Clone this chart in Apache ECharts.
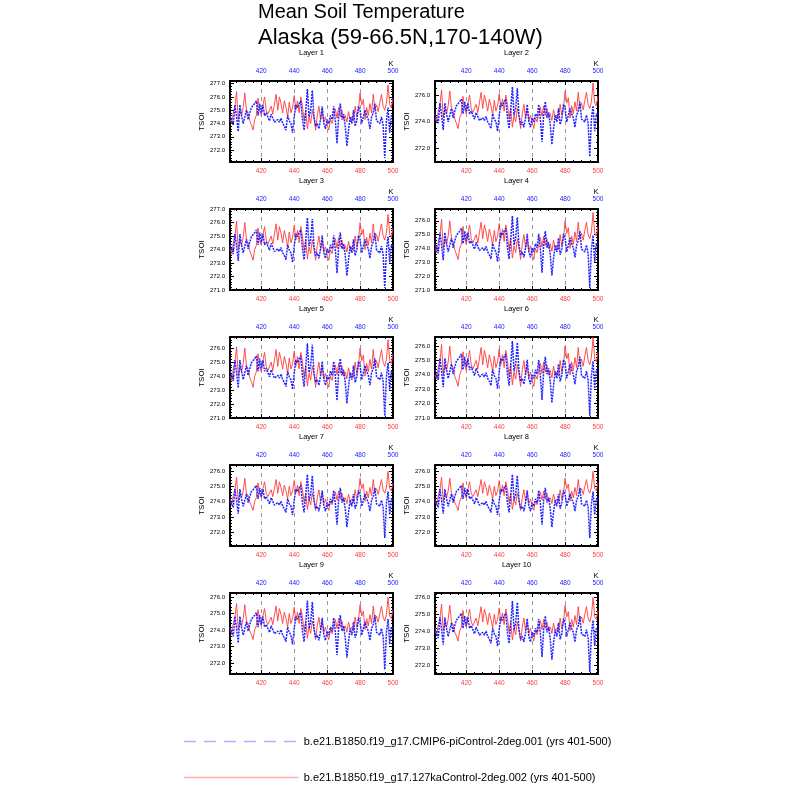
<!DOCTYPE html>
<html><head><meta charset="utf-8">
<script src="https://cdn.jsdelivr.net/npm/echarts@6/dist/echarts.min.js"></script>
<style>html,body{margin:0;padding:0;background:#fff}#c{width:800px;height:800px}</style>
</head><body><div id="c"></div>
<script>
const years = [401,402,403,404,405,406,407,408,409,410,411,412,413,414,415,416,417,418,419,420,
421,422,423,424,425,426,427,428,429,430,431,432,433,434,435,436,437,438,439,440,
441,442,443,444,445,446,447,448,449,450,451,452,453,454,455,456,457,458,459,460,
461,462,463,464,465,466,467,468,469,470,471,472,473,474,475,476,477,478,479,480,
481,482,483,484,485,486,487,488,489,490,491,492,493,494,495,496,497,498,499,500];

// layers 1-2
const redA = [274.3,274.0,274.8,275.3,276.4,274.3,275.0,274.6,275.2,276.3,
275.0,274.8,274.2,273.9,273.5,274.3,274.6,275.9,275.0,274.6,
275.4,276.0,275.0,274.7,274.6,275.3,274.7,274.8,276.2,275.0,
276.0,275.5,274.8,275.7,275.2,274.5,275.6,274.8,275.2,276.1,
275.0,275.7,274.8,276.0,275.3,274.2,275.0,273.6,274.5,274.0,
275.0,274.4,273.5,274.6,275.3,274.3,275.0,274.1,274.5,273.9,
273.5,274.3,274.0,274.6,275.1,274.4,275.2,274.5,275.0,274.3,
274.6,274.1,274.9,274.3,274.5,274.2,275.3,274.5,275.0,276.3,
275.4,275.8,274.3,275.2,274.6,275.5,274.8,276.2,275.0,275.4,
274.9,275.6,276.2,275.3,275.0,275.5,276.9,275.4,275.2,275.9];
const blueA = [274.6,274.2,273.9,275.4,274.5,273.4,275.4,274.6,274.0,274.5,
275.0,274.3,274.8,275.2,275.3,275.5,275.7,274.6,275.5,274.8,
275.4,274.6,274.8,274.5,274.2,274.7,274.6,274.1,274.0,274.3,
274.1,274.4,274.0,273.8,273.5,274.6,274.2,274.0,273.3,274.5,
275.4,275.2,275.5,275.7,274.3,273.5,274.9,276.6,274.5,275.0,
276.5,274.5,273.8,274.0,273.6,274.3,275.3,274.0,273.6,274.3,
274.0,274.6,274.3,275.3,274.2,272.5,274.5,275.5,274.3,274.7,
273.8,272.3,273.5,274.5,274.0,275.0,273.8,274.2,275.3,275.0,
274.0,274.5,275.0,274.6,274.3,273.6,274.5,274.8,275.5,274.2,
274.3,274.0,274.5,273.9,271.4,274.2,275.2,273.3,274.6,274.5];

// layers 3-6
const redB = [274.0,273.7,274.5,275.0,276.1,274.0,274.7,274.3,274.9,276.0,
274.7,274.5,273.9,273.6,273.2,274.0,274.3,275.6,274.7,274.3,
275.1,275.7,274.7,274.4,274.3,275.0,274.4,274.5,275.9,274.7,
275.7,275.2,274.5,275.4,274.9,274.2,275.3,274.5,274.9,275.8,
274.7,275.4,274.5,275.7,275.0,273.9,274.7,273.3,274.2,273.7,
274.7,274.1,273.2,274.3,275.0,274.0,274.7,273.8,274.2,273.6,
273.2,274.0,273.7,274.3,274.8,274.1,274.9,274.2,274.7,274.0,
274.3,273.8,274.6,274.0,274.2,273.9,275.0,274.2,274.7,276.0,
275.1,275.5,274.0,274.9,274.3,275.2,274.5,275.9,274.7,275.1,
274.6,275.3,275.9,275.0,274.7,275.2,276.6,275.1,274.9,275.6];
const blueB = [274.35,273.95,273.65,275.15,274.25,273.15,275.15,274.35,273.75,274.25,
274.75,274.05,274.55,274.95,275.05,275.25,275.45,274.35,275.25,274.55,
275.15,274.35,274.55,274.25,273.95,274.45,274.35,273.85,273.75,274.05,
273.85,274.15,273.75,273.55,273.25,274.35,273.95,273.75,273.05,274.25,
275.15,274.95,275.25,275.45,274.05,273.25,274.65,276.35,274.25,274.75,
276.25,274.25,273.55,273.75,273.35,274.05,275.05,273.75,273.35,274.05,
273.75,274.35,274.05,275.05,273.95,272.25,274.25,275.25,274.05,274.45,
273.55,272.05,273.25,274.25,273.75,274.75,273.55,273.95,275.05,274.75,
273.75,274.25,274.75,274.35,274.05,273.35,274.25,274.55,275.25,273.95,
274.05,273.75,274.25,273.65,271.15,273.95,274.95,273.05,274.35,274.25];

// layers 7-10
const redC = [274.03,273.80,274.40,274.78,275.60,274.03,274.55,274.25,274.70,275.53,
274.55,274.40,273.95,273.73,273.43,274.03,274.25,275.23,274.55,274.25,
274.85,275.30,274.55,274.33,274.25,274.78,274.33,274.40,275.45,274.55,
275.30,274.93,274.40,275.08,274.70,274.18,275.00,274.40,274.70,275.38,
274.55,275.08,274.40,275.30,274.78,273.95,274.55,273.50,274.18,273.80,
274.55,274.10,273.43,274.25,274.78,274.03,274.55,273.88,274.18,273.73,
273.43,274.03,273.80,274.25,274.63,274.10,274.70,274.18,274.55,274.03,
274.25,273.88,274.48,274.03,274.18,273.95,274.78,274.18,274.55,275.53,
274.85,275.15,274.03,274.70,274.25,274.93,274.40,275.45,274.55,274.85,
274.48,275.00,275.45,274.78,274.55,274.93,275.98,274.85,274.70,275.23];
const blueC = [274.18,273.86,273.62,274.82,274.10,273.22,274.82,274.18,273.70,274.10,
274.50,273.94,274.34,274.66,274.74,274.90,275.06,274.18,274.90,274.34,
274.82,274.18,274.34,274.10,273.86,274.26,274.18,273.78,273.70,273.94,
273.78,274.02,273.70,273.54,273.30,274.18,273.86,273.70,273.14,274.10,
274.82,274.66,274.90,275.06,273.94,273.30,274.42,275.78,274.10,274.50,
275.70,274.10,273.54,273.70,273.38,273.94,274.74,273.70,273.38,273.94,
273.70,274.18,273.94,274.74,273.86,272.50,274.10,274.90,273.94,274.26,
273.54,272.34,273.30,274.10,273.70,274.50,273.54,273.86,274.74,274.50,
273.70,274.10,274.50,274.18,273.94,273.38,274.10,274.34,274.90,273.86,
273.94,273.70,274.10,273.62,271.62,273.86,274.66,273.14,274.18,274.10];

const layerNames = ['Layer 1','Layer 2','Layer 3','Layer 4','Layer 5','Layer 6','Layer 7','Layer 8','Layer 9','Layer 10'];
const layerRed  = [redA, redA, redB, redB, redB, redB, redC, redC, redC, redC];
const layerBlue = [blueA, blueA, blueB, blueB, blueB, blueB, blueC, blueC, blueC, blueC];
const yMins  = [271.1, 271.0, 271.0, 271.0, 271.0, 271.0, 271.1, 271.1, 271.35, 271.5];
const yMaxs  = [277.2, 277.05, 277.0, 276.85, 276.8, 276.63, 276.4, 276.4, 276.24, 276.25];
const ySteps = [1, 2, 1, 1, 1, 1, 1, 1, 1, 1];
const xTickStep = 20;

const blueName = 'b.e21.B1850.f19_g17.CMIP6-piControl-2deg.001 (yrs 401-500)';
const redName  = 'b.e21.B1850.f19_g17.127kaControl-2deg.002 (yrs 401-500)';
const titleLine1 = 'Mean Soil Temperature';
const titleLine2 = 'Alaska (59-66.5N,170-140W)';

// layout
const colLeft = [230, 435];
const rowTop = [81, 209, 337, 465, 593];
const PW = 163, PH = 81;
const RED = '#ff3c3c', BLUE = '#2222ff';

const chart = echarts.init(document.getElementById('c'));
const grid = [], xAxis = [], yAxis = [], series = [], graphic = [];

const frameLine = {show: true, onZero: false, lineStyle: {color: '#000', width: 2}};
const tick = {show: true, inside: true, length: 4, lineStyle: {color: '#000', width: 1}};

for (let i = 0; i < 10; i++) {
  const col = i % 2, row = Math.floor(i / 2);
  const left = colLeft[col], top = rowTop[row];
  grid.push({left: left, top: top, width: PW, height: PH, containLabel: false});
  const step = ySteps[i];
  const xFmt = v => (Math.round(v) % xTickStep === 0 ? String(Math.round(v)) : '');
  const yFmt = v => { const k = v / step; return Math.abs(k - Math.round(k)) < 1e-6 ? v.toFixed(1) : ''; };
  xAxis.push({
    gridIndex: i, type: 'value', position: 'bottom', min: 401, max: 500, splitNumber: 5,
    axisLine: frameLine, axisTick: tick,
    minorTick: {show: true, splitNumber: 4, length: 2, lineStyle: {color: '#000', width: 1}},
    axisLabel: {color: RED, fontSize: 6.5, margin: 6, formatter: xFmt},
    splitLine: {show: true, lineStyle: {color: '#999', type: [4, 4], width: 1}}
  });
  xAxis.push({
    gridIndex: i, type: 'value', position: 'top', min: 401, max: 500, splitNumber: 5,
    axisLine: frameLine, axisTick: tick,
    minorTick: {show: true, splitNumber: 4, length: 2, lineStyle: {color: '#000', width: 1}},
    axisLabel: {color: BLUE, fontSize: 6.5, margin: 6, formatter: xFmt},
    splitLine: {show: false}
  });
  const yCommon = {
    gridIndex: i, type: 'value', min: yMins[i], max: yMaxs[i], splitNumber: step === 2 ? 3 : 5,
    axisLine: frameLine, axisTick: tick,
    minorTick: {show: true, splitNumber: step === 2 ? 4 : 5, length: 2, lineStyle: {color: '#000', width: 1}},
    splitLine: {show: false}
  };
  yAxis.push(Object.assign({}, yCommon, {
    position: 'left', name: 'TSOI', nameLocation: 'middle', nameGap: 24,
    nameTextStyle: {fontSize: 8, color: '#000'},
    axisLabel: {color: '#000', fontSize: 6, margin: 5, formatter: yFmt}
  }));
  yAxis.push(Object.assign({}, yCommon, {
    position: 'right', name: 'K', nameLocation: 'end', nameGap: 11,
    nameTextStyle: {fontSize: 7.5, color: '#000', align: 'center', verticalAlign: 'bottom', padding: [0, 4, 0, 0]},
    axisLabel: {show: false}
  }));
  series.push({
    type: 'line', name: redName, xAxisIndex: 2 * i, yAxisIndex: 2 * i,
    data: years.map((y, k) => [y, layerRed[i][k]]),
    symbol: 'none', silent: true, animation: false,
    lineStyle: {color: RED, width: 0.9}, itemStyle: {color: RED}
  });
  series.push({
    type: 'line', name: blueName, xAxisIndex: 2 * i + 1, yAxisIndex: 2 * i,
    data: years.map((y, k) => [y, layerBlue[i][k]]),
    symbol: 'none', silent: true, animation: false,
    lineStyle: {color: BLUE, width: 1.5, type: [2, 1]}, itemStyle: {color: BLUE}
  });
  graphic.push({
    type: 'text', x: left + PW / 2, y: top - 28,
    style: {text: layerNames[i], fontSize: 7.5, fill: '#000', fontFamily: 'Liberation Sans',
            align: 'center', verticalAlign: 'middle', textAlign: 'center', textVerticalAlign: 'middle'}
  });
}

chart.setOption({
  animation: false,
  textStyle: {fontFamily: 'Liberation Sans'},
  title: {text: '{a|' + titleLine1 + '}\n{b|' + titleLine2 + '}', left: 258, top: 0, padding: 0,
          textStyle: {fontWeight: 'normal', color: '#000',
            rich: {a: {fontSize: 20, lineHeight: 25, color: '#000'}, b: {fontSize: 22, lineHeight: 25, color: '#000'}}}},
  legend: [
    {left: 183, top: 736, padding: 0, selectedMode: false, itemWidth: 115, itemHeight: 10,
     itemStyle: {opacity: 0},
     textStyle: {fontSize: 11, color: '#000'},
     data: [{name: blueName, itemStyle: {opacity: 0}, lineStyle: {color: '#aab0ff', width: 1.5, type: [12, 8], opacity: 1}}]},
    {left: 183, top: 772, padding: 0, selectedMode: false, itemWidth: 115, itemHeight: 10,
     itemStyle: {opacity: 0},
     textStyle: {fontSize: 11, color: '#000'},
     data: [{name: redName, itemStyle: {opacity: 0}, lineStyle: {color: '#ffb0b0', width: 1.5, type: 'solid', opacity: 1}}]}
  ],
  grid: grid, xAxis: xAxis, yAxis: yAxis, series: series, graphic: graphic
});
</script></body></html>
